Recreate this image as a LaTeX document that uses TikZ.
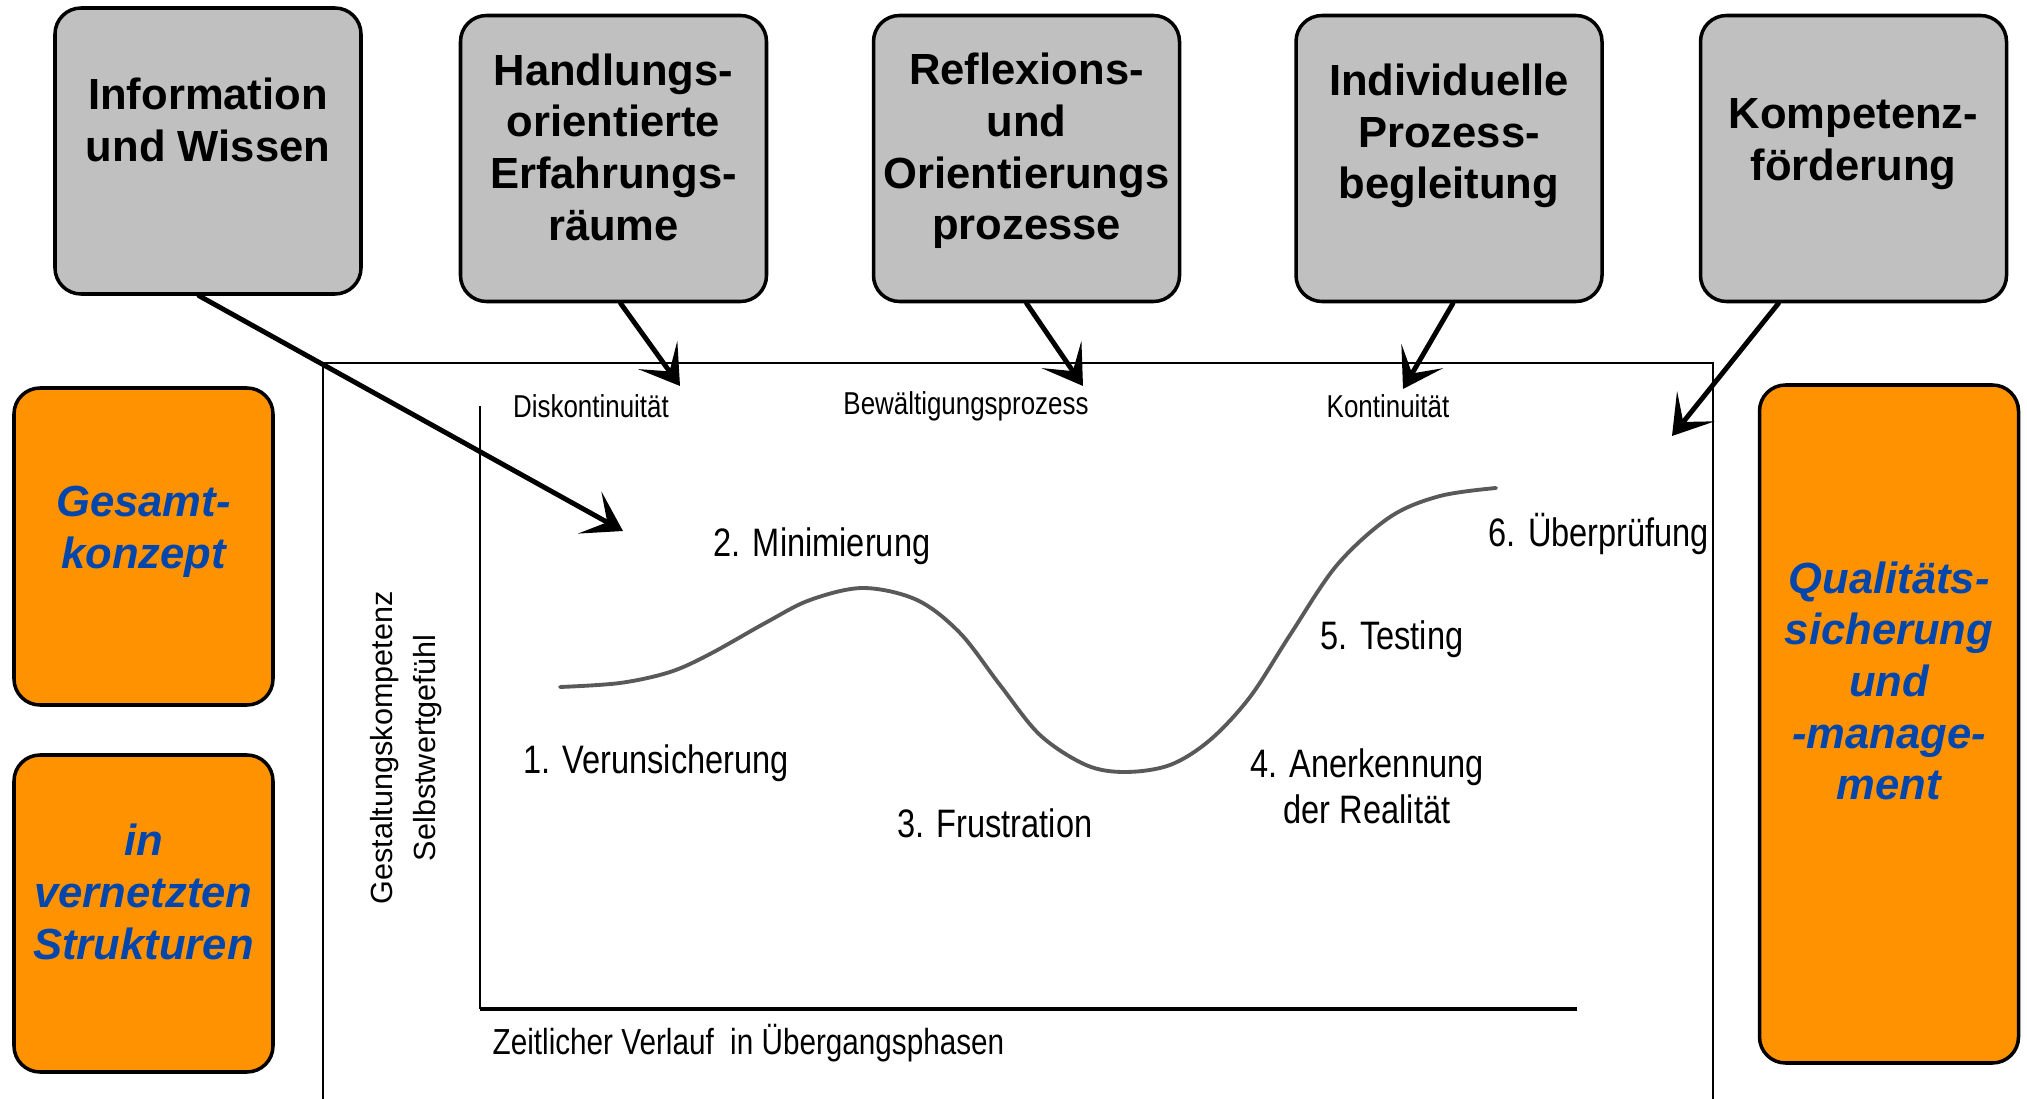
\documentclass[tikz,border=0pt]{standalone}
\usepackage{fontspec}
\setmainfont{Liberation Sans}
\newfontfamily\schmal[FakeStretch=0.82]{Liberation Sans}
\usetikzlibrary{arrows.meta}

\definecolor{kastengrau}{HTML}{C0C0C0}
\definecolor{kastenorange}{HTML}{FF9200}
\definecolor{textblau}{HTML}{0046AD}

\begin{document}
\begin{tikzpicture}[x=0.1mm, y=-0.1mm,
    graubox/.style={draw=black, line width=1pt, fill=kastengrau, rounded corners=2.6mm,
        minimum width=30.6mm, minimum height=28.6mm, inner sep=0pt},
    orangebox/.style={draw=black, line width=1pt, fill=kastenorange, rounded corners=2.6mm,
        minimum width=25.9mm, inner sep=0pt},
    titel/.style={font=\fontsize{12.4}{14.7}\selectfont\bfseries, align=center, inner sep=0pt},
    blautitel/.style={font=\fontsize{12.4}{14.7}\selectfont\bfseries\itshape, text=textblau,
        align=center, inner sep=0pt},
    phase/.style={font=\schmal\fontsize{11.3}{13.2}\selectfont, align=center, inner sep=0pt},
    achsentext/.style={font=\schmal\fontsize{9}{11}\selectfont, inner sep=0pt},
    skizzenpfeil/.style={line width=1.4pt, line cap=round,
        -{Stealth[length=3.8mm, width=4.8mm, inset=2mm]}}]

\useasboundingbox (0,0) rectangle (2027,1099);

%% === KAESTEN OBEN (grau) ===
\node[graubox] (info) at (208,151) {};
\foreach \name/\cx in {hand/613.5, refl/1026.5, indiv/1449, komp/1853.5}
    \node[graubox] (\name) at (\cx,158.5) {};

\node[titel] (infoT)  at (208,120)    {Information\\und Wissen};
\node[titel] (handT)  at (613.5,147)  {Handlungs-\\orientierte\\Erfahrungs-\\räume};
\node[titel] (reflT)  at (1026.5,151) {Reflexions-\\und\\Orientierungs\\prozesse};
\node[titel] (indivT) at (1449,136)   {Individuelle\\Prozess-\\begleitung};
\node[titel] (kompT)  at (1853.5,144) {Kompetenz-\\förderung};

%% === KAESTEN SEITLICH (orange) ===
\node[orangebox, minimum height=31.7mm] (gesamt) at (143.5,546.5) {};
\node[orangebox, minimum height=31.7mm] (netz)   at (143.5,913.5) {};
\node[orangebox, minimum height=67.8mm] (quali)  at (1889,724)    {};

\node[blautitel] (gesamtT) at (143.5,532) {Gesamt-\\konzept};
\node[blautitel] (netzT)   at (143.5,892) {in\\vernetzten\\Strukturen};
\node[blautitel] (qualiT)  at (1889,681)  {Qualitäts-\\sicherung\\und\\-manage-\\ment};

%% === RAHMEN UND ACHSEN ===
\draw[line width=0.7pt] (323,1099) -- (323,363) -- (1713,363) -- (1713,1099);
\draw[line width=0.7pt] (480,406) -- (480,1009);
\draw[line width=1.1pt] (480,1009) -- (1577,1009);

\node[achsentext] (diskont) at (591,406)  {Diskontinuität};
\node[achsentext] (bewaelt) at (966,406)  {Bewältigungsprozess};
\node[achsentext] (kontin)  at (1388,406) {Kontinuität};

\node[font=\fontsize{8.7}{12.2}\selectfont, align=center, rotate=90, inner sep=0pt] (yachse)
    at (406,748) {Gestaltungskompetenz\\Selbstwertgefühl};
\node[achsentext, font=\schmal\fontsize{10.3}{12}\selectfont, anchor=west] (xachse)
    at (492,1043) {Zeitlicher Verlauf\ \ in Übergangsphasen};

%% Verlaufskurve der Uebergangsphasen
\draw[line width=1.1pt, black!65, line cap=round] plot[smooth, tension=0.55] coordinates {
    (560,687) (620,683) (670,672) (710,654) (767,622) (810,600) (863,588) (917,600)
    (960,633) (1000,685) (1040,735) (1086,765) (1125,772) (1170,765) (1210,740)
    (1250,697) (1290,635) (1337,565) (1390,517) (1440,496) (1496,488)};

\node[phase] (p1) at (656,763)  {1. Verunsicherung};
\node[phase] (p2) at (822,546)  {2. Minimierung};
\node[phase] (p3) at (995,823)  {3. Frustration};
\node[phase] (p4) at (1367,786) {4. Anerkennung\\der Realität};
\node[phase] (p5) at (1392,639) {5. Testing};
\node[phase] (p6) at (1599,534) {6. Überprüfung};

%% === PFEILE ===
\coordinate (zielV) at (623,531);
\coordinate (zielD) at (680,386);
\coordinate (zielB) at (1083,386);
\coordinate (zielK) at (1403,389);
\coordinate (zielU) at (1672,436);

\draw[skizzenpfeil] ([xshift=-0.9mm]info.south) -- (zielV);
\draw[skizzenpfeil] ([xshift=0.7mm]hand.south)  -- (zielD);
\draw[skizzenpfeil] (refl.south)                -- (zielB);
\draw[skizzenpfeil] ([xshift=0.4mm]indiv.south) -- (zielK);
\draw[skizzenpfeil] ([xshift=-7.5mm]komp.south) -- (zielU);

\end{tikzpicture}
\end{document}
